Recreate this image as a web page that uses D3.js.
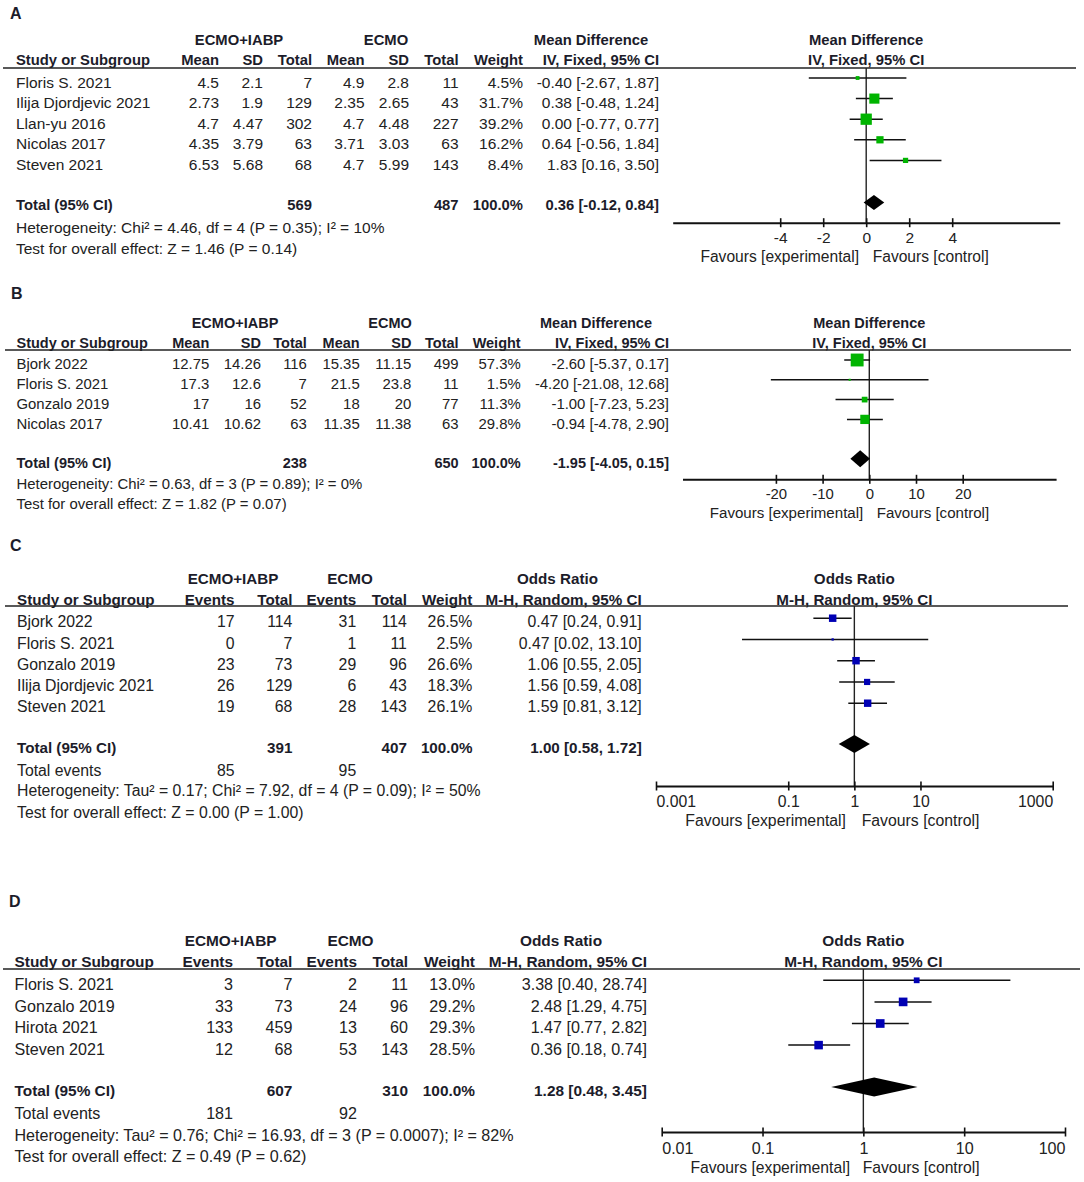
<!DOCTYPE html>
<html><head><meta charset="utf-8">
<script src="https://cdn.jsdelivr.net/npm/d3@7"></script>
<style>
body{margin:0;background:#fff;}
svg{display:block;}
</style></head><body>
<svg id="chart" width="1084" height="1182"></svg>
<script>
// ---------------- DATA ----------------
// Panel A – Mean Difference, IV, Fixed, 95% CI
const studiesA = ["Floris S. 2021", "Ilija Djordjevic 2021", "Llan-yu 2016", "Nicolas 2017", "Steven 2021"];
const expMeanA = [4.5, 2.73, 4.7, 4.35, 6.53];
const expSdA = [2.1, 1.9, 4.47, 3.79, 5.68];
const expTotalA = [7, 129, 302, 63, 68];
const ctlMeanA = [4.9, 2.35, 4.7, 3.71, 4.7];
const ctlSdA = [2.8, 2.65, 4.48, 3.03, 5.99];
const ctlTotalA = [11, 43, 227, 63, 143];
const weightA = [4.5, 31.7, 39.2, 16.2, 8.4];
const estA = [-0.40, 0.38, 0.00, 0.64, 1.83];
const lowA = [-2.67, -0.48, -0.77, -0.56, 0.16];
const highA = [1.87, 1.24, 0.77, 1.84, 3.50];
const totalA = [0.36, -0.12, 0.84];
const nTotalA = [569, 487];
const hetA = "Heterogeneity: Chi\u00B2 = 4.46, df = 4 (P = 0.35); I\u00B2 = 10%";
const testA = "Test for overall effect: Z = 1.46 (P = 0.14)";
const ticksA = [-4, -2, 0, 2, 4];
const domainA = [-9, 9];

// Panel B – Mean Difference, IV, Fixed, 95% CI
const studiesB = ["Bjork 2022", "Floris S. 2021", "Gonzalo 2019", "Nicolas 2017"];
const expMeanB = [12.75, 17.3, 17, 10.41];
const expSdB = [14.26, 12.6, 16, 10.62];
const expTotalB = [116, 7, 52, 63];
const ctlMeanB = [15.35, 21.5, 18, 11.35];
const ctlSdB = [11.15, 23.8, 20, 11.38];
const ctlTotalB = [499, 11, 77, 63];
const weightB = [57.3, 1.5, 11.3, 29.8];
const estB = [-2.60, -4.20, -1.00, -0.94];
const lowB = [-5.37, -21.08, -7.23, -4.78];
const highB = [0.17, 12.68, 5.23, 2.90];
const totalB = [-1.95, -4.05, 0.15];
const nTotalB = [238, 650];
const hetB = "Heterogeneity: Chi\u00B2 = 0.63, df = 3 (P = 0.89); I\u00B2 = 0%";
const testB = "Test for overall effect: Z = 1.82 (P = 0.07)";
const ticksB = [-20, -10, 0, 10, 20];
const domainB = [-40, 40];

// Panel C – Odds Ratio, M-H, Random, 95% CI
const studiesC = ["Bjork 2022", "Floris S. 2021", "Gonzalo 2019", "Ilija Djordjevic 2021", "Steven 2021"];
const expEventsC = [17, 0, 23, 26, 19];
const expTotalC = [114, 7, 73, 129, 68];
const ctlEventsC = [31, 1, 29, 6, 28];
const ctlTotalC = [114, 11, 96, 43, 143];
const weightC = [26.5, 2.5, 26.6, 18.3, 26.1];
const estC = [0.47, 0.47, 1.06, 1.56, 1.59];
const lowC = [0.24, 0.02, 0.55, 0.59, 0.81];
const highC = [0.91, 13.10, 2.05, 4.08, 3.12];
const totalC = [1.00, 0.58, 1.72];
const nTotalC = [391, 407];
const nEventsC = [85, 95];
const hetC = "Heterogeneity: Tau\u00B2 = 0.17; Chi\u00B2 = 7.92, df = 4 (P = 0.09); I\u00B2 = 50%";
const testC = "Test for overall effect: Z = 0.00 (P = 1.00)";
const ticksC = [0.001, 0.1, 1, 10, 1000];
const domainC = [0.001, 1000];

// Panel D – Odds Ratio, M-H, Random, 95% CI
const studiesD = ["Floris S. 2021", "Gonzalo 2019", "Hirota 2021", "Steven 2021"];
const expEventsD = [3, 33, 133, 12];
const expTotalD = [7, 73, 459, 68];
const ctlEventsD = [2, 24, 13, 53];
const ctlTotalD = [11, 96, 60, 143];
const weightD = [13.0, 29.2, 29.3, 28.5];
const estD = [3.38, 2.48, 1.47, 0.36];
const lowD = [0.40, 1.29, 0.77, 0.18];
const highD = [28.74, 4.75, 2.82, 0.74];
const totalD = [1.28, 0.48, 3.45];
const nTotalD = [607, 310];
const nEventsD = [181, 92];
const hetD = "Heterogeneity: Tau\u00B2 = 0.76; Chi\u00B2 = 16.93, df = 3 (P = 0.0007); I\u00B2 = 82%";
const testD = "Test for overall effect: Z = 0.49 (P = 0.62)";
const ticksD = [0.01, 0.1, 1, 10, 100];
const domainD = [0.01, 100];

const groupNames = ["ECMO+IABP", "ECMO"];
const favourLabels = ["Favours [experimental]", "Favours [control]"];

// ---------------- DRAWING ----------------
const FONT = '"Liberation Sans", Arial, Helvetica, sans-serif';
const GREEN = "#00b400", BLUE = "#0000b4";
const svg = d3.select("#chart");
svg.append("rect").attr("width", 1084).attr("height", 1182).attr("fill", "#fff");

const f2 = v => v.toFixed(2);
const ciText = (e, l, h) => `${f2(e)} [${f2(l)}, ${f2(h)}]`;

function drawPanel(P) {
  const g = svg.append("g");
  const txt = (x, y, s, anchor, bold, size) => g.append("text")
    .attr("x", x).attr("y", y).attr("dy", "0.36em")
    .attr("text-anchor", anchor || "start")
    .attr("font-family", FONT)
    .attr("font-weight", bold ? "bold" : "normal")
    .attr("font-size", size || (bold ? P.fsB : P.fsR))
    .attr("fill", bold ? "#1c1c2a" : "#222")
    .text(s);

  txt(P.labelX, P.labelY, P.label, "start", true, 16);
  // group headers
  txt(P.groupX[0], P.groupY, groupNames[0], "middle", true);
  txt(P.groupX[1], P.groupY, groupNames[1], "middle", true);
  txt(P.effX, P.groupY, P.effTitle, "middle", true);
  txt(P.ciX, P.headY, P.effSub, "end", true);
  // column headers
  txt(P.studyX, P.headY, "Study or Subgroup", "start", true);
  P.cols.forEach(c => txt(c.x, P.headY, c.head, "end", true));
  txt(P.weightX, P.headY, "Weight", "end", true);

  // scale
  const x = (P.log ? d3.scaleLog() : d3.scaleLinear()).domain(P.domain).range(P.range);
  const nullV = P.log ? 1 : 0;
  txt(x(nullV), P.groupY, P.effTitle, "middle", true);
  txt(x(nullV), P.headY, P.effSub, "middle", true);

  // rule
  g.append("line").attr("x1", P.rule[0]).attr("x2", P.rule[1])
    .attr("y1", P.ruleY).attr("y2", P.ruleY)
    .attr("stroke", "#222").attr("stroke-width", 1.6);

  const rowY = i => P.rowY0 + i * P.rowStep;
  P.studies.forEach((s, i) => {
    const y = rowY(i);
    txt(P.studyX, y, s);
    P.cols.forEach(c => txt(c.x, y, String(c.values[i]), "end"));
    txt(P.weightX, y, P.weights[i].toFixed(1) + "%", "end");
    txt(P.ciX, y, ciText(P.est[i], P.low[i], P.high[i]), "end");
  });

  // total row
  txt(P.studyX, P.totalY, "Total (95% CI)", "start", true);
  txt(P.totalCols[0], P.totalY, String(P.nTotal[0]), "end", true);
  txt(P.totalCols[1], P.totalY, String(P.nTotal[1]), "end", true);
  txt(P.weightX, P.totalY, "100.0%", "end", true);
  txt(P.ciX, P.totalY, ciText(P.total[0], P.total[1], P.total[2]), "end", true);
  if (P.nEvents) {
    txt(P.studyX, P.eventsY, "Total events");
    txt(P.cols[0].x, P.eventsY, String(P.nEvents[0]), "end");
    txt(P.cols[2].x, P.eventsY, String(P.nEvents[1]), "end");
  }
  txt(P.studyX, P.hetY, P.het);
  txt(P.studyX, P.testY, P.test);

  // null line
  g.append("line").attr("x1", x(nullV)).attr("x2", x(nullV))
    .attr("y1", P.ruleY).attr("y2", P.axisY)
    .attr("stroke", "#222").attr("stroke-width", 1.4);

  // CI lines and squares
  P.studies.forEach((s, i) => {
    const y = rowY(i) + P.markOff;
    g.append("line").attr("x1", x(P.low[i])).attr("x2", x(P.high[i]))
      .attr("y1", y).attr("y2", y).attr("stroke", "#111").attr("stroke-width", 1.5);
    const sz = Math.max(2, P.k * Math.sqrt(P.weights[i]));
    g.append("rect").attr("x", x(P.est[i]) - sz / 2).attr("y", y - sz / 2)
      .attr("width", sz).attr("height", sz).attr("fill", P.color);
  });

  // diamond
  const dy = P.totalY + P.diaOff, h = P.diaH;
  g.append("path")
    .attr("d", `M${x(P.total[1])},${dy}L${x(P.total[0])},${dy - h}L${x(P.total[2])},${dy}L${x(P.total[0])},${dy + h}Z`)
    .attr("fill", "#000");

  // axis
  const axis = d3.axisBottom(x).tickValues(P.ticks).tickSizeOuter(0).tickSizeInner(4.5)
    .tickFormat(d => String(d));
  const ag = g.append("g").attr("transform", `translate(0,${P.axisY})`).call(axis);
  ag.attr("font-family", FONT).attr("font-size", P.fsR);
  ag.select(".domain").attr("stroke", "#111").attr("stroke-width", 2);
  ag.selectAll(".tick line").attr("y1", -4.5).attr("y2", 4.5).attr("stroke", "#111").attr("stroke-width", 1.6);
  ag.selectAll(".tick text").attr("y", P.tickLabelY - P.axisY).attr("dy", "0.36em").attr("fill", "#222");
  if (P.log) {
    const n = P.ticks.length;
    ag.selectAll(".tick text").attr("text-anchor", (d, i) => i === 0 ? "start" : (i === n - 1 ? "end" : "middle"));
  }
  txt(P.favX[0], P.favY, favourLabels[0], "end", false, P.fsFav);
  txt(P.favX[1], P.favY, favourLabels[1], "start", false, P.fsFav);
}

// Panel A
drawPanel({
  label: "A", labelX: 10, labelY: 13,
  groupY: 40, headY: 60, ruleY: 68, rule: [3, 1076],
  groupX: [239, 386], effX: 591, effTitle: "Mean Difference", effSub: "IV, Fixed, 95% CI",
  studyX: 16, ciX: 659, weightX: 523,
  fsB: 14.8, fsR: 15.5, fsFav: 15.6,
  cols: [
    {head: "Mean", x: 219, values: expMeanA}, {head: "SD", x: 263, values: expSdA},
    {head: "Total", x: 312, values: expTotalA}, {head: "Mean", x: 364.5, values: ctlMeanA},
    {head: "SD", x: 409, values: ctlSdA}, {head: "Total", x: 458.6, values: ctlTotalA}],
  totalCols: [312, 458.6],
  studies: studiesA, weights: weightA, est: estA, low: lowA, high: highA,
  total: totalA, nTotal: nTotalA, het: hetA, test: testA,
  rowY0: 82, rowStep: 20.6, totalY: 204.5, hetY: 227.6, testY: 248,
  log: false, domain: domainA, range: [672.7, 1059.7], ticks: ticksA,
  axisY: 222.7, tickLabelY: 237.7, favY: 256.7, favX: [859, 872.7],
  color: GREEN, k: 1.8, markOff: -4, diaOff: -2, diaH: 7.5
});

// Panel B
drawPanel({
  label: "B", labelX: 11, labelY: 293,
  groupY: 322.3, headY: 342.3, ruleY: 350, rule: [5, 1071],
  groupX: [235, 390], effX: 596, effTitle: "Mean Difference", effSub: "IV, Fixed, 95% CI",
  studyX: 16.5, ciX: 669, weightX: 520.7,
  fsB: 14.5, fsR: 14.9, fsFav: 15.1,
  cols: [
    {head: "Mean", x: 209.3, values: expMeanB}, {head: "SD", x: 261, values: expSdB},
    {head: "Total", x: 306.9, values: expTotalB}, {head: "Mean", x: 359.7, values: ctlMeanB},
    {head: "SD", x: 411.4, values: ctlSdB}, {head: "Total", x: 458.6, values: ctlTotalB}],
  totalCols: [306.9, 458.6],
  studies: studiesB, weights: weightB, est: estB, low: lowB, high: highB,
  total: totalB, nTotal: nTotalB, het: hetB, test: testB,
  rowY0: 364, rowStep: 19.8, totalY: 462.7, hetY: 484, testY: 504,
  log: false, domain: domainB, range: [682.5, 1056.1], ticks: ticksB,
  axisY: 479.3, tickLabelY: 494, favY: 513, favX: [863.3, 876.7],
  color: GREEN, k: 1.7, markOff: -4, diaOff: -4, diaH: 8.5
});

// Panel C
drawPanel({
  label: "C", labelX: 10, labelY: 545,
  groupY: 578.3, headY: 599.3, ruleY: 606, rule: [5, 1068],
  groupX: [233, 350], effX: 557.5, effTitle: "Odds Ratio", effSub: "M-H, Random, 95% CI",
  studyX: 17, ciX: 641.7, weightX: 472.4,
  fsB: 15.2, fsR: 15.8, fsFav: 15.8,
  cols: [
    {head: "Events", x: 234.5, values: expEventsC}, {head: "Total", x: 292.4, values: expTotalC},
    {head: "Events", x: 356.2, values: ctlEventsC}, {head: "Total", x: 406.9, values: ctlTotalC}],
  totalCols: [292.4, 406.9],
  studies: studiesC, weights: weightC, est: estC, low: lowC, high: highC,
  total: totalC, nTotal: nTotalC, nEvents: nEventsC, het: hetC, test: testC,
  rowY0: 621.7, rowStep: 21.25, totalY: 747.7, eventsY: 770, hetY: 790.7, testY: 812.3,
  log: true, domain: domainC, range: [656, 1052.7], ticks: ticksC,
  axisY: 786, tickLabelY: 801.7, favY: 820, favX: [846, 861.7],
  color: BLUE, k: 1.45, markOff: -3.5, diaOff: -3.7, diaH: 9
});

// Panel D
drawPanel({
  label: "D", labelX: 9, labelY: 901.7,
  groupY: 940, headY: 961, ruleY: 969, rule: [3, 1080],
  groupX: [230.6, 350.5], effX: 561, effTitle: "Odds Ratio", effSub: "M-H, Random, 95% CI",
  studyX: 14.5, ciX: 647, weightX: 475,
  fsB: 15.4, fsR: 16.1, fsFav: 15.7,
  cols: [
    {head: "Events", x: 233, values: expEventsD}, {head: "Total", x: 292.4, values: expTotalD},
    {head: "Events", x: 357, values: ctlEventsD}, {head: "Total", x: 408, values: ctlTotalD}],
  totalCols: [292.4, 408],
  studies: studiesD, weights: weightD, est: estD, low: lowD, high: highD,
  total: totalD, nTotal: nTotalD, nEvents: nEventsD, het: hetD, test: testD,
  rowY0: 984.3, rowStep: 21.6, totalY: 1090.7, eventsY: 1113.3, hetY: 1135.7, testY: 1156.7,
  log: true, domain: domainD, range: [661.7, 1065], ticks: ticksD,
  axisY: 1132, tickLabelY: 1148, favY: 1167, favX: [850, 862.7],
  color: BLUE, k: 1.6, markOff: -4, diaOff: -3.7, diaH: 9.5
});
</script>
</body></html>
